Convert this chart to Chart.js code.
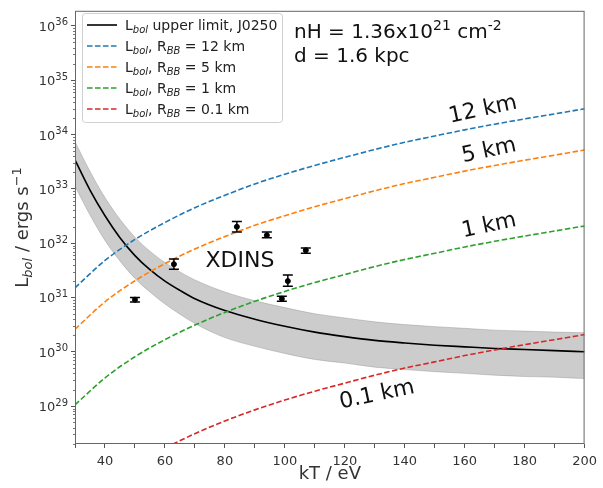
<!DOCTYPE html>
<html>
<head>
<meta charset="utf-8">
<script src="https://cdn.jsdelivr.net/npm/chart.js@4.4.1/dist/chart.umd.min.js"></script>
<style>
  html, body { margin: 0; padding: 0; background: #fff; }
  #chart { display: block; }
</style>
</head>
<body>
<canvas id="chart" width="603" height="488"></canvas>
<script>
// =============================================
// データ
// =============================================
const bbKT = [30, 40, 50, 60, 70, 80, 90, 100, 110, 120, 130, 140, 150, 160, 170, 180, 190, 200]
const bb12km = [1.5e31, 4.8e31, 1.17e32, 2.4e32, 4.5e32, 7.6e32, 1.23e33, 1.86e33, 2.7e33, 3.8e33, 5.3e33, 7.2e33, 9.4e33, 1.22e34, 1.55e34, 1.94e34, 2.4e34, 2.98e34]
const bb5km = [2.6e30, 8.3e30, 2.03e31, 4.2e31, 7.8e31, 1.32e32, 2.13e32, 3.2e32, 4.7e32, 6.6e32, 9.2e32, 1.25e33, 1.63e33, 2.12e33, 2.69e33, 3.37e33, 4.17e33, 5.2e33]
const bb1km = [1.05e29, 3.3e29, 8.1e29, 1.67e30, 3.1e30, 5.3e30, 8.5e30, 1.29e31, 1.88e31, 2.64e31, 3.7e31, 5.0e31, 6.5e31, 8.5e31, 1.08e32, 1.35e32, 1.67e32, 2.07e32]
const bb01km = [1.05e27, 3.3e27, 8.1e27, 1.67e28, 3.1e28, 5.3e28, 8.5e28, 1.29e29, 1.88e29, 2.64e29, 3.7e29, 5.0e29, 6.5e29, 8.5e29, 1.08e30, 1.35e30, 1.67e30, 2.07e30]

const limKT = [30, 35, 40, 45, 50, 55, 60, 65, 70, 80, 90, 100, 110, 120, 130, 140, 150, 160, 170, 180, 190, 200]
const limMid = [3.4e33, 9.5e32, 3.2e32, 1.26e32, 5.9e31, 3.24e31, 2.0e31, 1.35e31, 9.5e30, 5.75e30, 3.98e30, 2.95e30, 2.3e30, 1.9e30, 1.62e30, 1.45e30, 1.32e30, 1.23e30, 1.15e30, 1.10e30, 1.05e30, 1.0e30]
const limHi = [7.4e33, 2.1e33, 6.9e32, 2.75e32, 1.29e32, 7.1e31, 4.4e31, 2.95e31, 2.1e31, 1.26e31, 8.7e30, 6.5e30, 5.0e30, 4.2e30, 3.55e30, 3.16e30, 2.9e30, 2.7e30, 2.5e30, 2.4e30, 2.3e30, 2.24e30]
const limLo = [1.12e33, 3.3e32, 1.12e32, 4.7e31, 2.24e31, 1.26e31, 7.6e30, 4.9e30, 3.3e30, 1.82e30, 1.26e30, 9.3e29, 7.2e29, 6.2e29, 5.2e29, 4.7e29, 4.3e29, 4.0e29, 3.7e29, 3.5e29, 3.4e29, 3.2e29]

// XDINS
const xdKT = [50, 63, 84, 94, 107, 101, 99]
const xdL = [9.1e30, 4.1e31, 2.0e32, 1.4e32, 7.4e31, 2.0e31, 9.5e30]
const xdLo = [8.2e30, 3.3e31, 1.6e32, 1.26e32, 6.5e31, 1.6e31, 8.5e30]
const xdHi = [1.0e31, 5.1e31, 2.5e32, 1.6e32, 8.1e31, 2.6e31, 1.05e31]

const xTicks = [40, 60, 80, 100, 120, 140, 160, 180, 200]
const yDecades = [29, 30, 31, 32, 33, 34, 35, 36]

// =============================================
// スタイル
// =============================================
const FONT = "'DejaVu Sans', sans-serif"
const COLORS = {
  lim: '#000000',
  r12: '#1f77b4',
  r5: '#ff7f0e',
  r1: '#2ca02c',
  r01: '#d62728',
  band: 'rgba(128,128,128,0.4)',
}
const DASH = [5.5, 2.5]

const pts = (xs, ys) => xs.map((x, i) => ({ x, y: ys[i] }))

// 上付き・下付きを含むテキスト
function richWidth(ctx, parts, size) {
  let w = 0
  for (const p of parts) {
    ctx.font = `${p.it ? 'italic ' : ''}${p.sub || p.sup ? Math.round(size * 0.7) : size}px ${FONT}`
    w += ctx.measureText(p.t).width
  }
  return w
}
function drawRich(ctx, parts, x, y, size) {
  for (const p of parts) {
    const s = p.sub || p.sup ? Math.round(size * 0.7) : size
    ctx.font = `${p.it ? 'italic ' : ''}${s}px ${FONT}`
    const dy = p.sub ? size * 0.22 : p.sup ? -size * 0.4 : 0
    ctx.fillText(p.t, x, y + dy)
    x += ctx.measureText(p.t).width
  }
}

const LEGEND = [
  { color: COLORS.lim, dash: [], parts: [{ t: 'L' }, { t: 'bol', sub: 1, it: 1 }, { t: ' upper limit, J0250' }] },
  { color: COLORS.r12, dash: DASH, parts: [{ t: 'L' }, { t: 'bol', sub: 1, it: 1 }, { t: ', R' }, { t: 'BB', sub: 1, it: 1 }, { t: ' = 12 km' }] },
  { color: COLORS.r5, dash: DASH, parts: [{ t: 'L' }, { t: 'bol', sub: 1, it: 1 }, { t: ', R' }, { t: 'BB', sub: 1, it: 1 }, { t: ' = 5 km' }] },
  { color: COLORS.r1, dash: DASH, parts: [{ t: 'L' }, { t: 'bol', sub: 1, it: 1 }, { t: ', R' }, { t: 'BB', sub: 1, it: 1 }, { t: ' = 1 km' }] },
  { color: COLORS.r01, dash: DASH, parts: [{ t: 'L' }, { t: 'bol', sub: 1, it: 1 }, { t: ', R' }, { t: 'BB', sub: 1, it: 1 }, { t: ' = 0.1 km' }] },
]

// =============================================
// 描画プラグイン
// =============================================
const decorPlugin = {
  id: 'decor',
  afterDatasetsDraw(chart) {
    const { ctx, scales: { x, y } } = chart
    // エラーバー
    ctx.save()
    ctx.strokeStyle = '#000'
    ctx.lineWidth = 1.5
    xdKT.forEach((t, i) => {
      const px = x.getPixelForValue(t)
      const lo = y.getPixelForValue(xdLo[i])
      const hi = y.getPixelForValue(xdHi[i])
      ctx.beginPath()
      ctx.moveTo(px, lo); ctx.lineTo(px, hi)
      ctx.moveTo(px - 5, lo); ctx.lineTo(px + 5, lo)
      ctx.moveTo(px - 5, hi); ctx.lineTo(px + 5, hi)
      ctx.stroke()
    })
    ctx.restore()
  },
  afterDraw(chart) {
    const { ctx, chartArea: a, scales: { x, y } } = chart
    ctx.save()

    // 枠
    ctx.strokeStyle = '#666'
    ctx.lineWidth = 1
    ctx.strokeRect(a.left + 0.5, a.top + 0.5, a.right - a.left - 1, a.bottom - a.top - 1)

    // y 補助目盛
    ctx.beginPath()
    for (let e = 28; e <= 36; e++) {
      for (let m = 2; m <= 9; m++) {
        const v = m * Math.pow(10, e)
        if (v < y.min || v > y.max) continue
        const py = Math.round(y.getPixelForValue(v)) + 0.5
        ctx.moveTo(a.left - 2, py); ctx.lineTo(a.left, py)
      }
    }
    ctx.strokeStyle = '#555'
    ctx.lineWidth = 0.8
    ctx.stroke()

    // y 目盛ラベル 10^n
    ctx.fillStyle = '#333'
    ctx.textAlign = 'right'
    ctx.textBaseline = 'alphabetic'
    yDecades.forEach(e => {
      const py = y.getPixelForValue(Math.pow(10, e))
      ctx.font = `10px ${FONT}`
      const ew = ctx.measureText(String(e)).width
      ctx.fillText(String(e), 68, py - 0.5)
      ctx.font = `13px ${FONT}`
      ctx.fillText('10', 68 - ew, py + 5)
    })

    // 凡例
    ctx.beginPath()
    ctx.roundRect(82.5, 13.5, 200, 109, 3)
    ctx.fillStyle = 'rgba(255,255,255,0.8)'
    ctx.fill()
    ctx.strokeStyle = '#d0d0d0'
    ctx.lineWidth = 1
    ctx.stroke()
    ctx.textAlign = 'left'
    LEGEND.forEach((item, i) => {
      const ry = 25 + i * 21
      ctx.beginPath()
      ctx.setLineDash(item.dash)
      ctx.strokeStyle = item.color
      ctx.lineWidth = 1.6
      ctx.moveTo(87, ry); ctx.lineTo(117, ry)
      ctx.stroke()
      ctx.setLineDash([])
      ctx.fillStyle = '#222'
      drawRich(ctx, item.parts, 125, ry + 5, 14)
    })

    // 注記
    ctx.fillStyle = '#111'
    drawRich(ctx, [{ t: 'nH = 1.36x10' }, { t: '21', sup: 1 }, { t: ' cm' }, { t: '-2', sup: 1 }], 294, 38, 20)
    ctx.font = `20px ${FONT}`
    ctx.fillText('d = 1.6 kpc', 294, 62)

    ctx.font = `22px ${FONT}`
    ctx.textAlign = 'center'
    ctx.textBaseline = 'middle'
    ctx.fillText('XDINS', 240, 261)

    const tilted = [['12 km', 483, 110], ['5 km', 489, 151], ['1 km', 489, 226], ['0.1 km', 377, 395]]
    tilted.forEach(([t, cx, cy]) => {
      ctx.save()
      ctx.translate(cx, cy)
      ctx.rotate(-12 * Math.PI / 180)
      ctx.fillText(t, 0, 0)
      ctx.restore()
    })

    // 軸タイトル
    ctx.fillStyle = '#333'
    ctx.font = `18px ${FONT}`
    ctx.textAlign = 'center'
    ctx.textBaseline = 'alphabetic'
    ctx.fillText('kT / eV', (a.left + a.right) / 2, 479)

    const yParts = [{ t: 'L' }, { t: 'bol', sub: 1, it: 1 }, { t: ' / ergs s' }, { t: '−1', sup: 1 }]
    const w = richWidth(ctx, yParts, 18)
    ctx.save()
    ctx.translate(28, (a.top + a.bottom) / 2)
    ctx.rotate(-Math.PI / 2)
    ctx.textAlign = 'left'
    drawRich(ctx, yParts, -w / 2, 0, 18)
    ctx.restore()

    ctx.restore()
  }
}

// =============================================
// グラフ
// =============================================
const lineDs = (label, data, color, dash, order) => ({
  label,
  data,
  borderColor: color,
  borderWidth: 1.6,
  borderDash: dash,
  pointRadius: 0,
  fill: false,
  cubicInterpolationMode: 'monotone',
  order,
})

new Chart(document.getElementById('chart'), {
  type: 'line',
  data: {
    datasets: [
      {
        label: 'upper band',
        data: pts(limKT, limHi),
        borderColor: 'rgba(128,128,128,0.35)',
        backgroundColor: COLORS.band,
        borderWidth: 1,
        pointRadius: 0,
        fill: '+1',
        cubicInterpolationMode: 'monotone',
        order: 10,
      },
      {
        label: 'lower band',
        data: pts(limKT, limLo),
        borderColor: 'rgba(128,128,128,0.35)',
        borderWidth: 1,
        pointRadius: 0,
        fill: false,
        cubicInterpolationMode: 'monotone',
        order: 10,
      },
      lineDs('Lbol upper limit, J0250', pts(limKT, limMid), COLORS.lim, [], 5),
      lineDs('RBB = 12 km', pts(bbKT, bb12km), COLORS.r12, DASH, 4),
      lineDs('RBB = 5 km', pts(bbKT, bb5km), COLORS.r5, DASH, 4),
      lineDs('RBB = 1 km', pts(bbKT, bb1km), COLORS.r1, DASH, 4),
      lineDs('RBB = 0.1 km', pts(bbKT, bb01km), COLORS.r01, DASH, 4),
      {
        label: 'XDINS',
        data: pts(xdKT, xdL),
        showLine: false,
        pointRadius: 2.5,
        pointBackgroundColor: '#000',
        pointBorderColor: '#000',
        order: 1,
      },
    ]
  },
  options: {
    responsive: false,
    animation: false,
    devicePixelRatio: 1,
    layout: { padding: { left: 0, right: 15, top: 7, bottom: 0 } },
    plugins: { legend: { display: false }, tooltip: { enabled: false } },
    scales: {
      x: {
        type: 'linear',
        min: 30,
        max: 200,
        ticks: {
          stepSize: 10,
          autoSkip: false,
          maxRotation: 0,
          padding: 6,
          color: '#333',
          font: { family: FONT, size: 13 },
          callback: v => xTicks.includes(v) ? String(v) : '',
        },
        grid: { drawOnChartArea: false, drawTicks: true, tickLength: 4, color: '#555' },
        border: { display: false },
        afterFit(scale) { scale.height = 44 },
      },
      y: {
        type: 'logarithmic',
        min: 2e28,
        max: 1.9e36,
        afterBuildTicks(scale) {
          scale.ticks = yDecades.map(e => ({ value: Math.pow(10, e) }))
        },
        ticks: {
          autoSkip: false,
          padding: 3,
          font: { family: FONT, size: 13 },
          callback: () => '',
        },
        grid: { drawOnChartArea: false, drawTicks: true, tickLength: 4, color: '#555' },
        border: { display: false },
        afterFit(scale) { scale.width = 75 },
      }
    }
  },
  plugins: [decorPlugin]
})
</script>
</body>
</html>
